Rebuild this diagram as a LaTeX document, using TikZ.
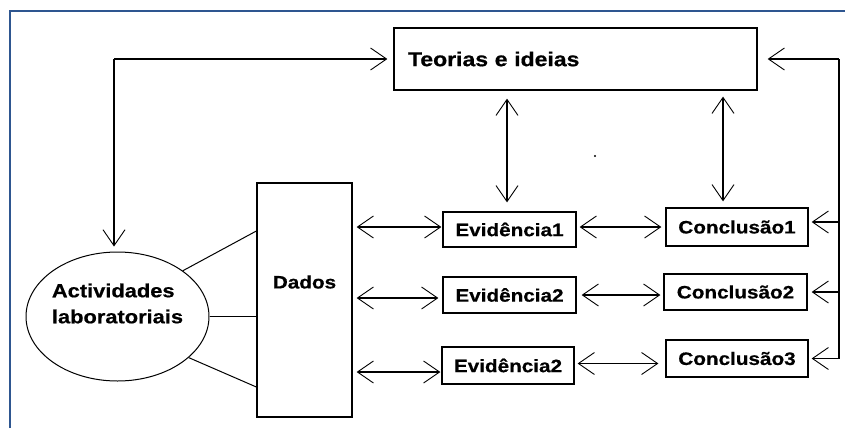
\documentclass[tikz,border=0pt]{standalone}
\usepackage{fontspec}
\usetikzlibrary{arrows.meta,shapes.geometric,calc}
\newfontfamily\labfont{Liberation Sans}[FakeStretch=1.15,FakeBold=0.6]
\definecolor{framebl}{HTML}{2E5690}
\begin{document}
\begin{tikzpicture}[x=1pt,y=-1pt,
  box/.style={draw,line width=1.3pt,rectangle,inner sep=0pt},
  lbl/.style={font=\labfont\bfseries\fontsize{18pt}{22pt}\selectfont},
  conn/.style={line width=1.2pt},
  tipb/.tip={Straight Barb[length=16pt,width=22pt,line width=0.9pt]},
  barb/.style={line width=1.2pt,-tipb},
  dbarb/.style={line width=1.2pt,tipb-tipb}]
\useasboundingbox (0,0) rectangle (845,428);
\fill[white] (0,0) rectangle (845,428);
% frame
\draw[framebl,line width=2pt] (10,428) -- (10,11) -- (845,11);
% nodes
\node[box,minimum width=363pt,minimum height=62pt,text width=335pt,align=left,font=\labfont\bfseries\fontsize{20pt}{24pt}\selectfont] (teorias) at (575.5,59) {Teorias e ideias};
\node[box,minimum width=95pt,minimum height=234pt] (dados) at (304.5,300) {};
\node[lbl] (dadoslbl) at ([yshift=18pt]dados.center) {Dados};
\node[draw,ellipse,line width=1pt,minimum width=183pt,minimum height=129pt,inner sep=0pt] (ell) at (117.5,316.5) {};
\node[align=left,font=\labfont\bfseries\fontsize{19pt}{26pt}\selectfont] (elllbl) at ([yshift=13pt]ell.center) {Actividades\\laboratoriais};
\node[box,minimum width=133pt,minimum height=35pt,lbl] (e1) at (509.5,229.5) {Evidência1};
\node[box,minimum width=133pt,minimum height=36pt,lbl] (e2) at (509.5,295) {Evidência2};
\node[box,minimum width=132pt,minimum height=37pt,lbl] (e3) at (508,365.5) {Evidência2};
\node[box,minimum width=142pt,minimum height=38pt,lbl] (c1) at (737,227) {Conclusão1};
\node[box,minimum width=143pt,minimum height=36pt,lbl] (c2) at (735.5,292) {Conclusão2};
\node[box,minimum width=142pt,minimum height=37pt,lbl] (c3) at (737,358.5) {Conclusão3};
% helper coordinates
\coordinate (d1) at ([yshift=69pt]dados.west);
\coordinate (d3) at ([yshift=-87pt]dados.west);
\coordinate (e1w) at ([yshift=2.5pt]e1.west);
\coordinate (e2w) at ([yshift=-3pt]e2.west);
\coordinate (e3w) at ([yshift=-6.5pt]e3.west);
\coordinate (e3e) at ([yshift=2pt]e3.east);
\coordinate (e1n) at ([xshift=-2.5pt]e1.north);
\coordinate (c1n) at ([xshift=-14pt]c1.north);
\coordinate (c1e) at ([yshift=5pt]c1.east);
\coordinate (elln) at ([xshift=-3.5pt]ell.north);
% ellipse to dados
\draw[line width=1pt] (ell.35) -- (d1);
\draw[line width=1pt] (ell.east) -- (ell.east -| dados.west);
\draw[line width=1pt] (ell.-30) -- (d3);
% dados to evidence
\draw[dbarb,shorten <=4pt,shorten >=1pt] (dados.east |- e1w) -- (e1w);
\draw[dbarb,shorten <=4pt,shorten >=4pt] (dados.east |- e2w) -- (e2w);
\draw[dbarb,shorten <=4pt,shorten >=1pt] (dados.east |- e3w) -- (e3w);
% evidence to conclusion
\draw[dbarb,shorten <=3pt,shorten >=4pt] (e1.east |- c1.west) -- (c1.west);
\draw[dbarb,shorten <=5pt,shorten >=3pt] (e2.east) -- (c2.west |- e2.east);
\draw[dbarb,shorten <=3pt,shorten >=7pt] (e3e) -- (c3.west |- e3e);
% vertical
\draw[dbarb,shorten <=8pt,shorten >=9pt] (teorias.south -| e1n) -- (e1n);
\draw[dbarb,shorten <=6pt,shorten >=6pt] (teorias.south -| c1n) -- (c1n);
% left loop
\coordinate (lt) at (114,59);
\draw[conn] (lt) -- (elln |- lt);
\draw[barb,shorten >=6pt] (lt) -- (teorias.west);
\draw[barb,shorten >=5pt] (lt) -- (elln);
% right loop
\coordinate (rt) at (839,59);
\draw[conn] (rt) -- (rt |- c3.east);
\draw[barb,shorten >=10pt] (rt) -- (teorias.east);
\draw[barb,shorten >=3pt] (c1e -| rt) -- (c1e);
\draw[barb,shorten >=4pt] (c2.east -| rt) -- (c2.east);
\draw[barb,shorten >=3pt] (c3.east -| rt) -- (c3.east);
% stray dot
\fill (595,156) circle (1.1pt);
\end{tikzpicture}
\end{document}
